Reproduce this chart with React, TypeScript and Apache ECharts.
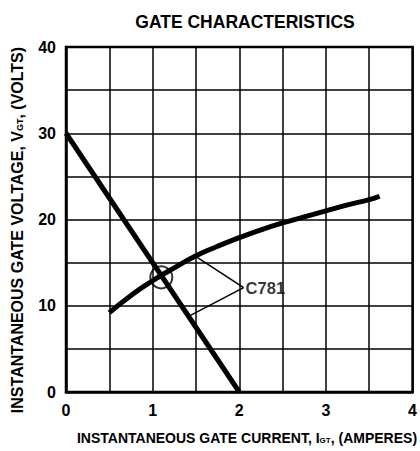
import React, { useEffect, useRef } from "react";
import * as echarts from "echarts";

const xTicks = [0, 1, 2, 3, 4];
const yTicks = [0, 10, 20, 30, 40];
const loadLine: [number, number][] = [[0, 30], [2, 0]];
const gateCurve: [number, number][] = [
  [0.5, 9.2], [0.75, 11.2], [1.0, 12.9], [1.25, 14.4], [1.5, 15.8], [1.75, 16.9],
  [2.0, 17.9], [2.25, 18.8], [2.5, 19.6], [2.75, 20.3], [3.0, 21.0], [3.25, 21.7],
  [3.5, 22.3], [3.62, 22.7],
];
const circlePoint: [number, number] = [1.1, 13.3];
const labelPoint: [number, number] = [2.05, 12.1];
const leaderTargets: [number, number][] = [[1.47, 15.9], [1.42, 8.8]];
const labelText = "C781";
const titleText = "GATE CHARACTERISTICS";
const xNameText = "INSTANTANEOUS GATE CURRENT, I{sub|GT}, (AMPERES)";
const yNameText = "INSTANTANEOUS GATE VOLTAGE, V{sub|GT}, (VOLTS)";

export default function App() {
  const ref = useRef<HTMLDivElement>(null);
  useEffect(() => {
    const chart = echarts.init(ref.current!, null, { renderer: "svg" });
    const font = "'Liberation Sans', Arial, sans-serif";
    const sub = (size: number) => ({ fontSize: size, fontFamily: font, fontWeight: "bold", fill: "#000", padding: [5, 0, 0, 0] });
    chart.setOption({
      animation: false,
      backgroundColor: "#fff",
      title: {
        text: titleText,
        left: 240,
        top: 8,
        textAlign: "center",
        textStyle: { fontFamily: font, fontWeight: "bold", fontSize: 17.5, color: "#000" },
      },
      graphic: [
        {
          type: "text", x: 247, y: 438,
          style: {
            text: xNameText, align: "center", verticalAlign: "middle",
            font: `bold 14px ${font}`, fill: "#000",
            rich: { sub: sub(8) },
          },
        },
        {
          type: "text", x: 17, y: 230, rotation: Math.PI / 2,
          style: {
            text: yNameText, align: "center", verticalAlign: "middle",
            font: `bold 16px ${font}`, fill: "#000",
            rich: { sub: sub(9) },
          },
        },
      ],
      grid: { left: 66, right: 3, top: 47, bottom: 59, show: true, borderColor: "#000", borderWidth: 2.5, backgroundColor: "transparent" },
      xAxis: {
        type: "value", min: 0, max: 4, interval: 0.5,
        axisLine: { lineStyle: { color: "#000", width: 2.5 } },
        axisTick: { show: false },
        splitLine: { show: true, lineStyle: { color: "#000", width: 1.5 } },
        axisLabel: {
          margin: 10, color: "#000", fontFamily: font, fontWeight: "bold", fontSize: 16,
          formatter: (v: number) => (xTicks.includes(v) ? String(v) : ""),
        },
      },
      yAxis: {
        type: "value", min: 0, max: 40, interval: 5,
        axisLine: { lineStyle: { color: "#000", width: 2.5 } },
        axisTick: { show: false },
        splitLine: { show: true, lineStyle: { color: "#000", width: 1.5 } },
        axisLabel: {
          margin: 10, color: "#000", fontFamily: font, fontWeight: "bold", fontSize: 16,
          formatter: (v: number) => (yTicks.includes(v) ? String(v) : ""),
        },
      },
      series: [
        {
          type: "line", data: loadLine, symbol: "none",
          lineStyle: { color: "#000", width: 5 },
        },
        {
          type: "line", data: gateCurve, symbol: "none", smooth: true,
          lineStyle: { color: "#000", width: 5 },
        },
        {
          type: "scatter", data: [circlePoint], symbol: "circle", symbolSize: 22,
          itemStyle: { color: "transparent", borderColor: "#000", borderWidth: 2 },
        },
        ...leaderTargets.map((t) => ({
          type: "line", data: [t, labelPoint], symbol: "none",
          lineStyle: { color: "#000", width: 1.5 },
        })),
        {
          type: "scatter", data: [labelPoint], symbolSize: 0,
          label: {
            show: true, position: "right", distance: 2, formatter: labelText,
            color: "#000", textBorderWidth: 0, fontFamily: font, fontWeight: "bold", fontSize: 16.5,
          },
        },
      ],
    });
    return () => chart.dispose();
  }, []);
  return <div ref={ref} style={{ width: 420, height: 451, position: "absolute", left: 0, top: 0 }} />;
}
